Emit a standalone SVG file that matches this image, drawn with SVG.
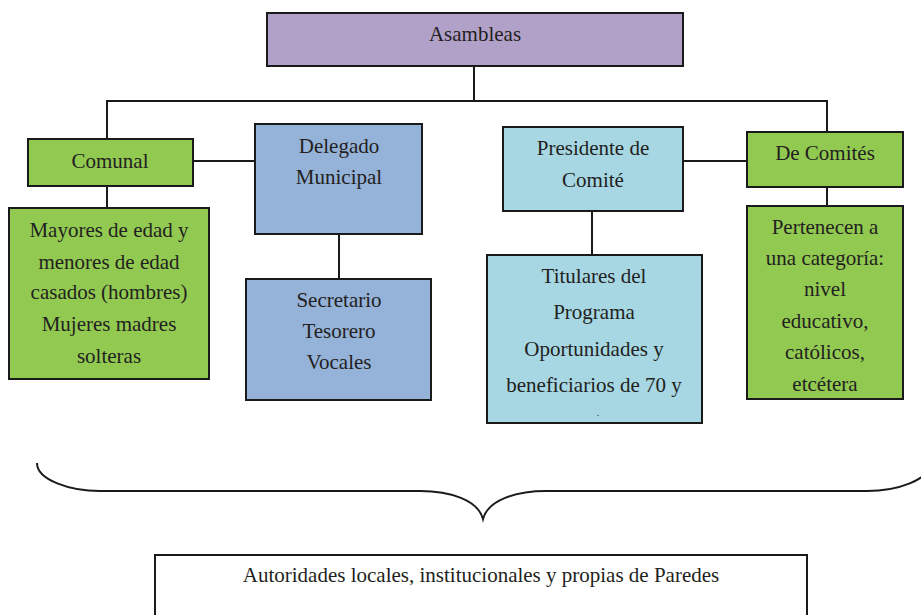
<svg xmlns="http://www.w3.org/2000/svg" width="921" height="615" viewBox="0 0 921 615">
<defs>
<style>
.box{stroke:#1a1a1a;stroke-width:2}
.purple{fill:#b1a1c8}
.green{fill:#92c951}
.blue{fill:#95b2d8}
.aqua{fill:#a6d7e3}
.white{fill:#ffffff}
text{font-family:"Liberation Serif","Times New Roman",serif;font-size:21px;fill:#231f20;text-anchor:middle}
.conn{stroke:#1a1a1a;stroke-width:2;fill:none}
</style>
</defs>
<rect width="921" height="615" fill="#ffffff"/>
<g id="connectors">
<line class="conn" x1="474" y1="66" x2="474" y2="101"/>
<line class="conn" x1="107" y1="101" x2="827" y2="101"/>
<line class="conn" x1="107" y1="100" x2="107" y2="139"/>
<line class="conn" x1="827" y1="100" x2="827" y2="132"/>
<line class="conn" x1="107" y1="186" x2="107" y2="208"/>
<line class="conn" x1="193" y1="161" x2="255" y2="161"/>
<line class="conn" x1="339" y1="234" x2="339" y2="279"/>
<line class="conn" x1="683" y1="161" x2="747" y2="161"/>
<line class="conn" x1="592" y1="211" x2="592" y2="255"/>
<line class="conn" x1="827" y1="187" x2="827" y2="206"/>
</g>
<g id="asambleas">
<rect class="box purple" x="267" y="13" width="416" height="53"/>
<text x="475" y="41">Asambleas</text>
</g>
<g id="comunal">
<rect class="box green" x="28" y="139" width="165" height="47"/>
<text x="110" y="168">Comunal</text>
</g>
<g id="mayores">
<rect class="box green" x="9" y="208" width="200" height="171"/>
<text x="109" y="237">Mayores de edad y</text>
<text x="109" y="269">menores de edad</text>
<text x="109" y="299">casados (hombres)</text>
<text x="109" y="331">Mujeres madres</text>
<text x="109" y="363">solteras</text>
</g>
<g id="delegado">
<rect class="box blue" x="255" y="124" width="167" height="110"/>
<text x="339" y="153">Delegado</text>
<text x="339" y="184">Municipal</text>
</g>
<g id="secretario">
<rect class="box blue" x="246" y="279" width="185" height="121"/>
<text x="339" y="307">Secretario</text>
<text x="339" y="338">Tesorero</text>
<text x="339" y="369">Vocales</text>
</g>
<g id="presidente">
<rect class="box aqua" x="503" y="127" width="180" height="84"/>
<text x="593" y="155">Presidente de</text>
<text x="593" y="187">Comité</text>
</g>
<g id="titulares">
<rect class="box aqua" x="487" y="255" width="215" height="168"/>
<text x="594" y="283">Titulares del</text>
<text x="594" y="319">Programa</text>
<text x="594" y="356">Oportunidades y</text>
<text x="594" y="392">beneficiarios de 70 y</text>
<text x="598" y="416" style="font-size:10px">.</text>
</g>
<g id="decomites">
<rect class="box green" x="747" y="132" width="156" height="55"/>
<text x="825" y="160">De Comités</text>
</g>
<g id="pertenecen">
<rect class="box green" x="747" y="206" width="156" height="193"/>
<text x="825" y="234">Pertenecen a</text>
<text x="825" y="265">una categoría:</text>
<text x="825" y="296">nivel</text>
<text x="825" y="328">educativo,</text>
<text x="825" y="359">católicos,</text>
<text x="825" y="391">etcétera</text>
</g>
<g id="brace">
<path class="conn" d="M37,463 C37,480 70,491 100,491 L420,491 C450,491 478,500 483,519 C488,500 516,491 546,491 L867,491 C897,491 930,480 930,463"/>
</g>
<g id="autoridades">
<rect class="box white" x="155" y="555" width="652" height="70"/>
<text x="481" y="582">Autoridades locales, institucionales y propias de Paredes</text>
</g>
</svg>
